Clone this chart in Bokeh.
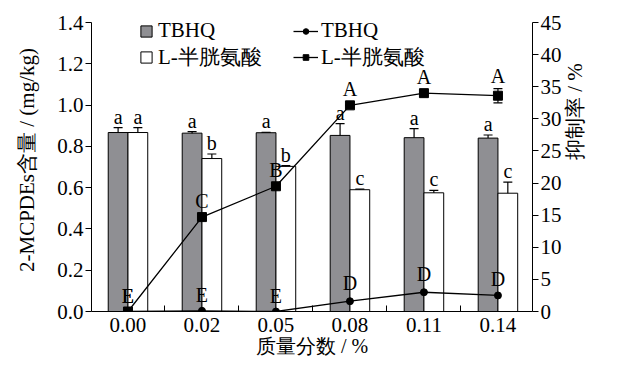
import math
from bokeh.plotting import figure
from bokeh.models import (ColumnDataSource, Range1d, LinearAxis, FixedTicker, Whisker, TeeHead,
                          Legend, LegendItem, PrintfTickFormatter, LabelSet)
from bokeh.embed import file_html
from bokeh.resources import INLINE

# ---------------- data ----------------
categories = ["0.00", "0.02", "0.05", "0.08", "0.11", "0.14"]

tbhq_content = [0.867, 0.864, 0.866, 0.853, 0.842, 0.840]
tbhq_content_err = [0.024, 0.007, 0.002, 0.057, 0.044, 0.015]
tbhq_content_letters = ["a", "a", "a", "a", "a", "a"]

cys_content = [0.867, 0.741, 0.703, 0.590, 0.575, 0.573]
cys_content_err = [0.024, 0.022, 0.004, 0.003, 0.012, 0.054]
cys_content_letters = ["a", "b", "b", "c", "c", "c"]

tbhq_inhib = [0.0, 0.1, 0.0, 1.6, 3.0, 2.5]
tbhq_inhib_err = [0.0, 0.0, 0.0, 0.8, 0.8, 0.5]
tbhq_inhib_letters = ["E", "E", "E", "D", "D", "D"]

cys_inhib = [0.0, 14.7, 19.5, 32.1, 34.0, 33.6]
cys_inhib_err = [0.0, 0.0, 0.0, 0.0, 0.0, 1.1]
cys_inhib_letters = ["E", "C", "B", "A", "A", "A"]

left_ticks = [0.0, 0.2, 0.4, 0.6, 0.8, 1.0, 1.2, 1.4]
right_ticks = [0, 5, 10, 15, 20, 25, 30, 35, 40, 45]

left_title = "2-MCPDEs含量 / (mg/kg)"
right_title = "抑制率 / %"
x_title = "质量分数 / %"
legend_labels = ["TBHQ", "L-半胱氨酸"]

# ---------------- styles / layout ----------------
FONT = "Liberation Serif"
GRAY = "#8f8f93"
BAR_W = 0.267
FIG_W, FIG_H = 601, 359
FRAME_L, FRAME_R, AXIS_TOP, FRAME_B, FRAME_T = 91, 538, 22, 311, 8
# frame extends a little above the axes' top so the legend is not clipped
head = (FRAME_B - FRAME_T) / (FRAME_B - AXIS_TOP)
L_MAX, R_MAX = left_ticks[-1], right_ticks[-1]

idx = list(range(len(categories)))

bars = ColumnDataSource(dict(
    xg=[i - BAR_W / 2 for i in idx],
    xw=[i + BAR_W / 2 for i in idx],
    g=tbhq_content, w=cys_content,
    gu=[v + e for v, e in zip(tbhq_content, tbhq_content_err)],
    gl=[v - e for v, e in zip(tbhq_content, tbhq_content_err)],
    wu=[v + e for v, e in zip(cys_content, cys_content_err)],
    wl=[v - e for v, e in zip(cys_content, cys_content_err)],
    gt=tbhq_content_letters, wt=cys_content_letters,
))

lines = ColumnDataSource(dict(
    x=idx,
    t=tbhq_inhib, c=cys_inhib,
    tu=[v + e for v, e in zip(tbhq_inhib, tbhq_inhib_err)],
    tl=[v - e for v, e in zip(tbhq_inhib, tbhq_inhib_err)],
    cu=[v + e for v, e in zip(cys_inhib, cys_inhib_err)],
    cl=[v - e for v, e in zip(cys_inhib, cys_inhib_err)],
    tt=tbhq_inhib_letters, ct=cys_inhib_letters,
    toff=[6 if e > 0 else 9 for e in tbhq_inhib_err],
    coff=[6 if e > 0 else 9 for e in cys_inhib_err],
))

p = figure(width=FIG_W, height=FIG_H, x_range=Range1d(-0.493, 5.467), y_range=Range1d(0, L_MAX * head),
           output_backend="svg", toolbar_location=None,
           min_border_left=FRAME_L, min_border_right=FIG_W - FRAME_R,
           min_border_top=FRAME_T, min_border_bottom=FIG_H - FRAME_B)
p.extra_y_ranges = {"r": Range1d(0, R_MAX * head)}
p.outline_line_color = None
p.xgrid.visible = False
p.ygrid.visible = False
p.background_fill_color = "white"
p.border_fill_color = "white"

# bars
gray_r = p.vbar(x="xg", top="g", width=BAR_W, source=bars, fill_color=GRAY, line_color="black", line_width=1)
white_r = p.vbar(x="xw", top="w", width=BAR_W, source=bars, fill_color="white", line_color="black", line_width=1)
for base, up, lo in (("xg", "gu", "gl"), ("xw", "wu", "wl")):
    p.add_layout(Whisker(source=bars, base=base, upper=up, lower=lo, line_color="black", line_width=1.2,
                         upper_head=TeeHead(size=9, line_width=1.2, line_color="black"),
                         lower_head=TeeHead(size=9, line_width=1.2, line_color="black")))

# lines (right axis)
tl_r = p.line(x="x", y="t", source=lines, y_range_name="r", line_color="black", line_width=1.3)
ts_r = p.scatter(x="x", y="t", source=lines, y_range_name="r", marker="circle", size=7,
                 fill_color="black", line_color="black")
cl_r = p.line(x="x", y="c", source=lines, y_range_name="r", line_color="black", line_width=1.3)
cs_r = p.scatter(x="x", y="c", source=lines, y_range_name="r", marker="square", size=9,
                 fill_color="black", line_color="black")
for up, lo in (("tu", "tl"), ("cu", "cl")):
    p.add_layout(Whisker(source=lines, base="x", upper=up, lower=lo, y_range_name="r",
                         line_color="black", line_width=1.2,
                         upper_head=TeeHead(size=9, line_width=1.2, line_color="black"),
                         lower_head=TeeHead(size=9, line_width=1.2, line_color="black")))

# letters
lab_kw = dict(text_font=FONT, text_font_size="20px", text_color="black",
              text_align="center", text_baseline="alphabetic")
p.add_layout(LabelSet(x="xg", y="gu", text="gt", source=bars, y_offset=4, **lab_kw))
p.add_layout(LabelSet(x="xw", y="wu", text="wt", source=bars, y_offset=4, **lab_kw))
p.add_layout(LabelSet(x="x", y="tu", text="tt", source=lines, y_offset="toff", y_range_name="r", **lab_kw))
p.add_layout(LabelSet(x="x", y="cu", text="ct", source=lines, y_offset="coff", y_range_name="r", **lab_kw))

# axes
def style_axis(ax):
    ax.axis_line_color = "black"
    ax.axis_line_width = 1
    ax.major_tick_line_color = "black"
    ax.minor_tick_line_color = "black"
    ax.major_label_text_font = FONT
    ax.major_label_text_font_size = "21px"
    ax.major_label_text_color = "black"
    ax.major_tick_in = 0
    ax.minor_tick_out = 0
    ax.minor_tick_in = 0
    ax.axis_label_text_font = FONT
    ax.axis_label_text_font_size = "21px"
    ax.axis_label_text_font_style = "normal"
    ax.axis_label_text_color = "black"

yl = p.yaxis[0]
style_axis(yl)
yl.ticker = FixedTicker(ticks=left_ticks)
yl.formatter = PrintfTickFormatter(format="%.1f")
yl.bounds = (0, L_MAX)
yl.major_tick_out = 6
yl.major_label_standoff = 2
yl.axis_label = left_title
yl.axis_label_standoff = 15

yr = LinearAxis(y_range_name="r", ticker=FixedTicker(ticks=right_ticks))
style_axis(yr)
yr.bounds = (0, R_MAX)
yr.major_tick_out = 6
yr.major_label_standoff = 2
yr.axis_label = right_title
yr.axis_label_standoff = 10
if "axis_label_orientation" in yr.properties():
    yr.axis_label_orientation = math.pi / 2
p.add_layout(yr, "right")

xa = p.xaxis[0]
style_axis(xa)
xa.ticker = FixedTicker(ticks=idx, minor_ticks=[i + 0.5 for i in idx[:-1]])
xa.major_label_overrides = {i: c for i, c in zip(idx, categories)}
xa.major_tick_out = 0
xa.minor_tick_in = 6
xa.major_label_standoff = 6
xa.axis_label = x_title
xa.axis_label_text_font_size = "20px"
xa.axis_label_standoff = 0

# legends
leg_kw = dict(padding=0, margin=0, border_line_color=None, background_fill_alpha=0,
              label_text_font=FONT, label_text_font_size="21px", label_text_color="black",
              spacing=0, label_height=20)
leg1 = Legend(items=[LegendItem(label=legend_labels[0], renderers=[gray_r]),
                     LegendItem(label=legend_labels[1], renderers=[white_r])],
              location=(48, 240), glyph_width=14, glyph_height=14, label_standoff=5, **leg_kw)
leg2 = Legend(items=[LegendItem(label=legend_labels[0], renderers=[tl_r, ts_r]),
                     LegendItem(label=legend_labels[1], renderers=[cl_r, cs_r])],
              location=(202, 240), glyph_width=25, glyph_height=14, label_standoff=3, **leg_kw)
p.add_layout(leg1)
p.add_layout(leg2)

open("out.html", "w").write(file_html(p, INLINE))
